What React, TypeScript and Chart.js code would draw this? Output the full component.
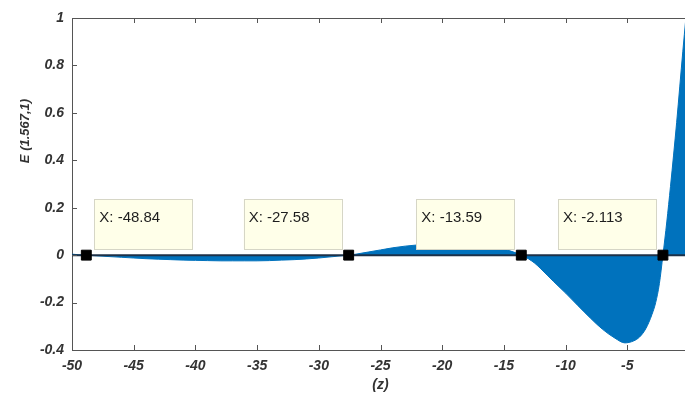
import React, { useEffect, useRef } from 'react';
import { Chart, registerables } from 'chart.js';

Chart.register(...registerables);

// z samples and E(1.567,1) values
const zValues = [
  -50, -49.5, -48.84, -48, -47, -46, -45, -44, -43, -42, -41, -40, -39, -38, -37, -36, -35, -34, -33, -32,
  -31, -30, -29, -28, -27.58, -27, -26, -25, -24, -23, -22, -21, -20, -19, -18, -17, -16, -15, -14.5, -14,
  -13.59, -13, -12.5, -12, -11.5, -11, -10, -9, -8, -7, -6, -5.2, -4.5, -4, -3.5, -3, -2.7, -2.4, -2.113,
  -1.8, -1.5, -1, -0.5, 0,
];
const eValues = [
  0.004, 0.002, 0, -0.003, -0.006, -0.009, -0.012, -0.015, -0.017, -0.019, -0.021, -0.022, -0.023, -0.024,
  -0.024, -0.024, -0.024, -0.023, -0.021, -0.019, -0.016, -0.012, -0.007, -0.002, 0, 0.004, 0.013, 0.022,
  0.031, 0.038, 0.043, 0.046, 0.047, 0.046, 0.044, 0.04, 0.034, 0.025, 0.018, 0.009, 0, -0.016, -0.034,
  -0.058, -0.084, -0.11, -0.16, -0.213, -0.265, -0.313, -0.35, -0.37, -0.362, -0.345, -0.31, -0.25, -0.2,
  -0.12, 0, 0.14, 0.29, 0.56, 0.86, 1.14,
];

// data tips (zero crossings)
const tipX = [-48.84, -27.58, -13.59, -2.113];
const tipLabels = ['X: -48.84', 'X: -27.58', 'X: -13.59', 'X: -2.113'];

const xMin = -50;
const xMax = 0;
const yMin = -0.4;
const yMax = 1;
const yTickValues = [-0.4, -0.2, 0, 0.2, 0.4, 0.6, 0.8, 1];
const yTickLabels = ['-0.4', '-0.2', '0', '0.2', '0.4', '0.6', '0.8', '1'];
const xTickValues = [-50, -45, -40, -35, -30, -25, -20, -15, -10, -5, 0];
const xTickLabels = ['-50', '-45', '-40', '-35', '-30', '-25', '-20', '-15', '-10', '-5', ''];
const yTitle = 'E (1.567,1)';
const xTitle = '(z)';

const FONT = "'Liberation Sans', Arial, Helvetica, sans-serif";
const AXIS_COLOR = '#555555';
const TEXT_COLOR = '#333333';

function labelFor(values: number[], labels: string[], v: number) {
  const i = values.findIndex((t) => Math.abs(t - v) < 1e-6);
  return i >= 0 ? labels[i] : '';
}

const framePlugin = {
  id: 'matlabFrame',
  afterDatasetsDraw(chart: any) {
    const { ctx, chartArea, scales } = chart;
    const xs = scales.x;
    const ys = scales.y;
    ctx.save();
    // top border
    ctx.strokeStyle = AXIS_COLOR;
    ctx.lineWidth = 1;
    ctx.beginPath();
    ctx.moveTo(chartArea.left, chartArea.top + 0.5);
    ctx.lineTo(chartArea.right, chartArea.top + 0.5);
    ctx.stroke();
    // x ticks inside (bottom and top)
    ctx.beginPath();
    xs.ticks.forEach((t: any) => {
      const px = Math.round(xs.getPixelForValue(t.value)) + 0.5;
      ctx.moveTo(px, chartArea.bottom);
      ctx.lineTo(px, chartArea.bottom - 5);
      ctx.moveTo(px, chartArea.top);
      ctx.lineTo(px, chartArea.top + 5);
    });
    // y ticks inside
    ys.ticks.forEach((t: any) => {
      const py = Math.round(ys.getPixelForValue(t.value)) + 0.5;
      ctx.moveTo(chartArea.left, py);
      ctx.lineTo(chartArea.left + 5, py);
    });
    ctx.stroke();

    // data tip boxes
    const y0 = ys.getPixelForValue(0);
    ctx.font = `15px ${FONT}`;
    ctx.textBaseline = 'middle';
    ctx.textAlign = 'left';
    tipX.forEach((xv, i) => {
      const px = xs.getPixelForValue(xv);
      const w = 98;
      const h = 50;
      const left = i === 0 ? px + 8 : px - 7 - w;
      const top = y0 - 6 - h;
      ctx.fillStyle = '#ffffe9';
      ctx.fillRect(left, top, w, h);
      ctx.strokeStyle = '#d6d6c6';
      ctx.lineWidth = 1;
      ctx.strokeRect(Math.round(left) + 0.5, Math.round(top) + 0.5, w, h);
      ctx.fillStyle = '#1e1e1e';
      ctx.fillText(tipLabels[i], left + 5, top + 19);
    });

    // y axis title
    ctx.save();
    ctx.translate(25, 131);
    ctx.rotate(-Math.PI / 2);
    ctx.font = `bold italic 13px ${FONT}`;
    ctx.fillStyle = TEXT_COLOR;
    ctx.textAlign = 'center';
    ctx.textBaseline = 'middle';
    ctx.fillText(yTitle, 0, 0);
    ctx.restore();
    ctx.restore();
  },
};

export default function App() {
  const canvasRef = useRef<HTMLCanvasElement | null>(null);

  useEffect(() => {
    const canvas = canvasRef.current;
    if (!canvas) return;
    const areaData = zValues.map((z, i) => ({ x: z, y: eValues[i] }));
    const markerData = tipX.map((x) => ({ x, y: 0 }));
    const chart = new Chart(canvas, {
      type: 'line',
      data: {
        datasets: [
          {
            data: markerData,
            showLine: false,
            pointStyle: 'rect',
            pointRadius: 7,
            pointBackgroundColor: '#000000',
            pointBorderColor: '#000000',
            pointBorderWidth: 1,
            order: 0,
          } as any,
          {
            data: [
              { x: xMin, y: 0 },
              { x: xMax, y: 0 },
            ],
            borderColor: '#1d3148',
            borderWidth: 2,
            pointRadius: 0,
            fill: false,
            order: 1,
          },
          {
            data: areaData,
            borderColor: '#0072BD',
            borderWidth: 1,
            backgroundColor: '#0072BD',
            fill: 'origin',
            pointRadius: 0,
            cubicInterpolationMode: 'monotone',
            order: 2,
          } as any,
        ],
      },
      options: {
        responsive: false,
        animation: false,
        events: [],
        layout: { padding: { top: 18, right: 11, left: 0, bottom: 0 } },
        plugins: {
          legend: { display: false },
          tooltip: { enabled: false },
        },
        scales: {
          x: {
            type: 'linear',
            min: xMin,
            max: xMax,
            afterFit: (s: any) => {
              s.height = 50;
            },
            afterBuildTicks: (s: any) => {
              s.ticks = xTickValues.map((v) => ({ value: v }));
            },
            grid: { display: false, drawTicks: false },
            border: { display: true, color: AXIS_COLOR, width: 1 },
            ticks: {
              padding: 8,
              color: TEXT_COLOR,
              font: { family: FONT, size: 14, weight: 'bold', style: 'italic' },
              callback: (v: any) => labelFor(xTickValues, xTickLabels, Number(v)),
            },
            title: {
              display: true,
              text: xTitle,
              color: TEXT_COLOR,
              padding: { top: 0, bottom: 6 },
              font: { family: FONT, size: 14, weight: 'bold', style: 'italic' },
            },
          },
          y: {
            type: 'linear',
            min: yMin,
            max: yMax,
            afterFit: (s: any) => {
              s.width = 72;
            },
            afterBuildTicks: (s: any) => {
              s.ticks = yTickValues.map((v) => ({ value: v }));
            },
            grid: { display: false, drawTicks: false },
            border: { display: true, color: AXIS_COLOR, width: 1 },
            ticks: {
              padding: 8,
              color: TEXT_COLOR,
              font: { family: FONT, size: 14, weight: 'bold', style: 'italic' },
              callback: (v: any) => labelFor(yTickValues, yTickLabels, Number(v)),
            },
          },
        },
      } as any,
      plugins: [framePlugin],
    });
    return () => chart.destroy();
  }, []);

  return (
    <div
      style={{
        position: 'fixed',
        left: 0,
        top: 0,
        width: 685,
        height: 400,
        overflow: 'hidden',
        background: '#ffffff',
      }}
    >
      <canvas ref={canvasRef} width={700} height={400} style={{ display: 'block', width: 700, height: 400 }} />
    </div>
  );
}
